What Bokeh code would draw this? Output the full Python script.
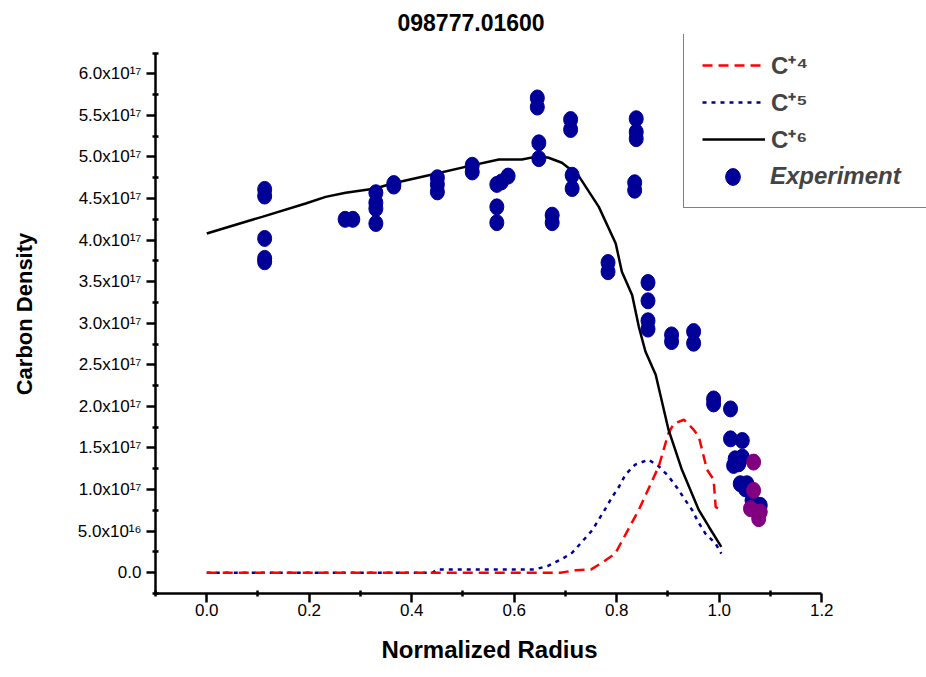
from bokeh.plotting import figure
from bokeh.models import Range1d, FixedTicker, Legend, LegendItem, Title
from bokeh.embed import file_html
from bokeh.resources import INLINE

FONT = "Liberation Sans"
NAVY = "#000099"
PURPLE = "#800080"

title_text = "098777.01600"
x_axis_label = "Normalized Radius"
y_axis_label = "Carbon Density"

x_tick_values = [0.0, 0.2, 0.4, 0.6, 0.8, 1.0, 1.2]
x_tick_labels = ["0.0", "0.2", "0.4", "0.6", "0.8", "1.0", "1.2"]
x_minor_values = [-0.1, 0.1, 0.3, 0.5, 0.7, 0.9, 1.1]
y_tick_values = [0.0, 5.0e16, 1.0e17, 1.5e17, 2.0e17, 2.5e17, 3.0e17,
                 3.5e17, 4.0e17, 4.5e17, 5.0e17, 5.5e17, 6.0e17]
y_tick_labels = ["0.0", "5.0x10\u00b9\u2076", "1.0x10\u00b9\u2077", "1.5x10\u00b9\u2077",
                 "2.0x10\u00b9\u2077", "2.5x10\u00b9\u2077", "3.0x10\u00b9\u2077",
                 "3.5x10\u00b9\u2077", "4.0x10\u00b9\u2077", "4.5x10\u00b9\u2077",
                 "5.0x10\u00b9\u2077", "5.5x10\u00b9\u2077", "6.0x10\u00b9\u2077"]
y_minor_values = [-2.5e16, 2.5e16, 7.5e16, 1.25e17, 1.75e17, 2.25e17, 2.75e17,
                  3.25e17, 3.75e17, 4.25e17, 4.75e17, 5.25e17, 5.75e17, 6.25e17]

series_labels = ["C\u207a\u2074", "C\u207a\u2075", "C\u207a\u2076", "Experiment"]

# C+4 (red dashed)
c4_x = [0.0, 0.69, 0.72, 0.75, 0.771, 0.797, 0.843, 0.882, 0.901, 0.911,
        0.931, 0.950, 0.960, 0.976, 0.989, 0.993, 1.005]
c4_y = [0.0, 0.0, 0.03e17, 0.04e17, 0.12e17, 0.23e17, 0.755e17, 1.28e17, 1.68e17, 1.79e17,
        1.84e17, 1.72e17, 1.64e17, 1.24e17, 1.12e17, 0.79e17, 0.755e17]

# C+5 (navy dotted)
c5_x = [0.0, 0.44, 0.45, 0.64, 0.665, 0.693, 0.713, 0.732, 0.752, 0.765, 0.778,
        0.791, 0.804, 0.817, 0.836, 0.862, 0.882, 0.901, 0.918, 0.934, 0.947,
        0.959, 0.973, 0.993, 1.004]
c5_y = [0.0, 0.0, 0.04e17, 0.04e17, 0.08e17, 0.165e17, 0.24e17, 0.37e17, 0.51e17, 0.64e17, 0.77e17,
        0.91e17, 1.03e17, 1.18e17, 1.30e17, 1.36e17, 1.28e17, 1.16e17, 1.02e17, 0.87e17, 0.755e17,
        0.61e17, 0.47e17, 0.35e17, 0.23e17]

# C+6 (black solid)
c6_x = [0.0, 0.108, 0.193, 0.232, 0.271, 0.329, 0.362, 0.44, 0.511, 0.57, 0.615,
        0.648, 0.667, 0.693, 0.726, 0.765, 0.798, 0.81, 0.83, 0.843, 0.856, 0.876,
        0.901, 0.927, 0.96, 0.98, 1.004]
c6_y = [4.08e17, 4.28e17, 4.44e17, 4.52e17, 4.57e17, 4.62e17, 4.68e17, 4.79e17, 4.89e17, 4.97e17, 4.97e17,
        5.01e17, 4.99e17, 4.93e17, 4.77e17, 4.40e17, 3.96e17, 3.62e17, 3.34e17, 2.96e17, 2.66e17, 2.38e17,
        1.72e17, 1.24e17, 0.755e17, 0.55e17, 0.31e17]

# Experiment (navy points)
exp_x = [0.113, 0.113, 0.113, 0.113, 0.113, 0.27, 0.285, 0.33, 0.33, 0.33, 0.33,
         0.365, 0.365, 0.45, 0.45, 0.45, 0.518, 0.518, 0.566, 0.566, 0.566, 0.575, 0.588,
         0.645, 0.645, 0.648, 0.648, 0.674, 0.674, 0.710, 0.710, 0.713, 0.713,
         0.783, 0.783, 0.838, 0.838, 0.838, 0.835, 0.835, 0.861, 0.861, 0.861, 0.861,
         0.907, 0.907, 0.950, 0.950, 0.989, 0.989, 1.022, 1.022, 1.045,
         1.031, 1.038, 1.028, 1.045, 1.041, 1.054, 1.051, 1.064, 1.080]
exp_y = [4.61e17, 4.53e17, 4.02e17, 3.78e17, 3.74e17, 4.25e17, 4.25e17, 4.57e17, 4.45e17, 4.38e17, 4.20e17,
         4.68e17, 4.65e17, 4.75e17, 4.67e17, 4.58e17, 4.90e17, 4.82e17, 4.67e17, 4.40e17, 4.21e17, 4.70e17, 4.77e17,
         5.71e17, 5.60e17, 5.17e17, 4.98e17, 4.30e17, 4.21e17, 5.45e17, 5.33e17, 4.78e17, 4.62e17,
         3.73e17, 3.62e17, 5.46e17, 5.30e17, 5.22e17, 4.69e17, 4.60e17, 3.49e17, 3.27e17, 3.03e17, 2.93e17,
         2.86e17, 2.78e17, 2.90e17, 2.76e17, 2.09e17, 2.03e17, 1.97e17, 1.61e17, 1.59e17,
         1.37e17, 1.31e17, 1.29e17, 1.39e17, 1.07e17, 1.07e17, 1.01e17, 0.87e17, 0.81e17]

# Experiment (purple points)
exp2_x = [1.067, 1.067, 1.061, 1.080, 1.077]
exp2_y = [1.33e17, 0.99e17, 0.77e17, 0.73e17, 0.65e17]

p = figure(width=926, height=677,
           x_range=Range1d(-0.1, 1.4044), y_range=Range1d(-2.5e16, 6.4728e17),
           output_backend="svg", toolbar_location=None,
           min_border_left=155, min_border_right=0,
           min_border_bottom=84, min_border_top=34)
p.outline_line_color = None
p.xgrid.visible = False
p.ygrid.visible = False
p.background_fill_color = "white"
p.border_fill_color = "white"

p.title.text = title_text
p.title.text_font = FONT
p.title.text_font_size = "23px"
p.title.text_font_style = "bold"
p.title.text_color = "black"
p.title.align = "left"
p.title.offset = 242
p.title.standoff = 7

xa = p.xaxis[0]
ya = p.yaxis[0]
xa.ticker = FixedTicker(ticks=x_tick_values, minor_ticks=x_minor_values)
ya.ticker = FixedTicker(ticks=y_tick_values, minor_ticks=y_minor_values)
xa.major_label_overrides = dict(zip(x_tick_values, x_tick_labels))
ya.major_label_overrides = dict(zip(y_tick_values, y_tick_labels))
xa.bounds = (-0.1, 1.2)
ya.bounds = (-2.5e16, 6.25e17)
ya.axis_label = y_axis_label
for ax in (xa, ya):
    ax.axis_line_width = 2.5
    ax.axis_line_color = "black"
    ax.major_tick_line_width = 2.5
    ax.minor_tick_line_width = 2.5
    ax.major_tick_line_color = "black"
    ax.minor_tick_line_color = "black"
    ax.major_tick_out = 9
    ax.major_tick_in = 0
    ax.minor_tick_out = 3
    ax.minor_tick_in = 3
    ax.major_label_text_font = FONT
    ax.major_label_text_font_size = "17px"
    ax.major_label_text_color = "black"
    ax.axis_label_text_font = FONT
    ax.axis_label_text_font_size = "22px"
    ax.axis_label_text_font_style = "bold"
    ax.axis_label_text_color = "black"
xa.major_label_standoff = 1
ya.major_label_standoff = 5
ya.axis_label_standoff = 38

# x axis title, centred under the drawn axis (-0.1 .. 1.2)
xtitle = Title(text=x_axis_label, align="left", offset=226, standoff=30,
               text_font=FONT, text_font_size="24px", text_font_style="bold",
               text_color="black")
p.add_layout(xtitle, "below")

r5 = p.line(c5_x, c5_y, line_color=NAVY, line_width=2.5, line_dash="4 5")
r4 = p.line(c4_x, c4_y, line_color="red", line_width=2.5, line_dash="10 6")
r6 = p.line(c6_x, c6_y, line_color="black", line_width=2.5)
r_exp = p.ellipse(exp_x, exp_y, width=14, height=16, width_units="screen", height_units="screen",
                  fill_color=NAVY, line_color=NAVY)
p.ellipse(exp2_x, exp2_y, width=14, height=16, width_units="screen", height_units="screen",
          fill_color=PURPLE, line_color=PURPLE)

# legend-only placeholder glyph (no data)
r_blank = p.scatter(x=[], y=[], size=1, fill_alpha=0, line_alpha=0)

legA = Legend(items=[LegendItem(label=series_labels[0], renderers=[r4]),
                     LegendItem(label=series_labels[1], renderers=[r5]),
                     LegendItem(label=series_labels[2], renderers=[r6]),
                     LegendItem(label=" ", renderers=[r_blank])],
              location=(528, 385), padding=18, spacing=4, margin=0,
              glyph_width=63, glyph_height=30, label_standoff=6, label_width=137,
              label_text_font=FONT, label_text_font_size="24px", label_text_font_style="bold",
              border_line_color="black", border_line_width=1.5,
              background_fill_color="white", background_fill_alpha=1.0)
legB = Legend(items=[LegendItem(label=series_labels[3], renderers=[r_exp], index=0)],
              location=(528, 385), padding=18, spacing=0, margin=0,
              glyph_width=63, glyph_height=21, label_standoff=6, label_width=137,
              label_text_font=FONT, label_text_font_size="24px", label_text_font_style="bold italic",
              border_line_alpha=0, background_fill_alpha=0)
p.add_layout(legA, "center")
p.add_layout(legB, "center")

open("out.html", "w").write(file_html(p, INLINE))
